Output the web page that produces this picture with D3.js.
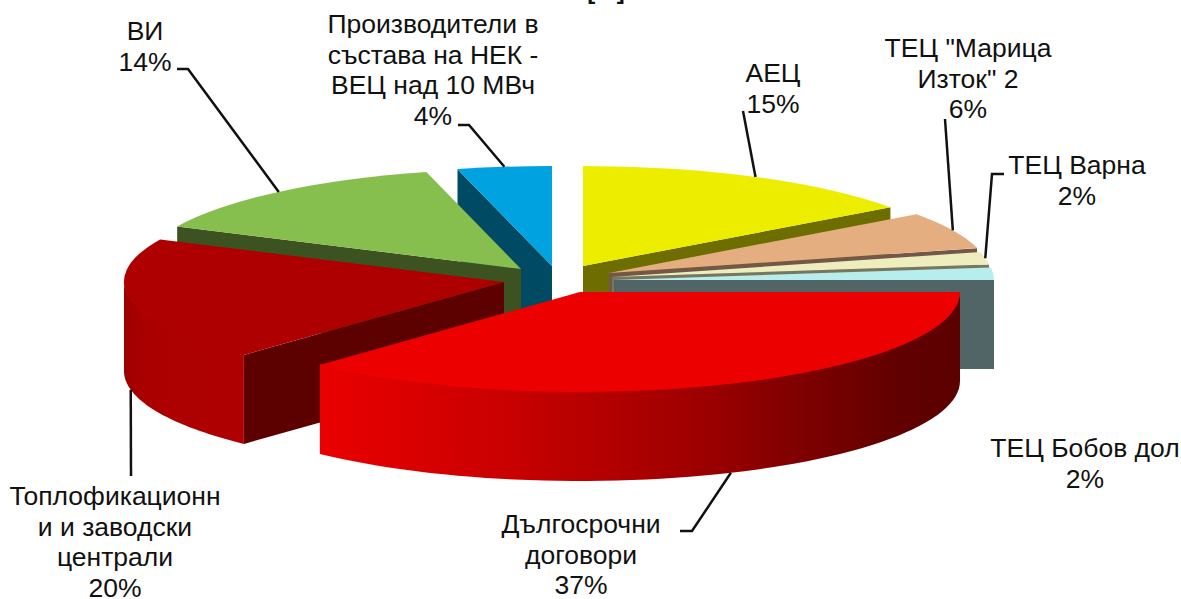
<!DOCTYPE html>
<html>
<head>
<meta charset="utf-8">
<script src="https://cdn.jsdelivr.net/npm/d3@7/dist/d3.min.js"></script>
<style>
  html, body { margin: 0; padding: 0; background: #fff; }
  svg { display: block; }
  text { font-family: "Liberation Sans", Arial, sans-serif; font-size: 26.5px; fill: #111; }
</style>
</head>
<body>
<div id="chart"></div>
<script>
// Data, clockwise from 12 o'clock
const names = ["АЕЦ", "ТЕЦ \"Марица Изток\" 2", "ТЕЦ Варна", "ТЕЦ Бобов дол",
               "Дългосрочни договори", "Топлофикационни и заводски централи", "ВИ",
               "Производители в състава на НЕК - ВЕЦ над 10 МВч"]
const shares = [15, 6, 2, 2, 37, 20, 14, 4]
const labelLines = [
  ["АЕЦ", "15%"],
  ["ТЕЦ \"Марица", "Изток\" 2", "6%"],
  ["ТЕЦ Варна", "2%"],
  ["ТЕЦ Бобов дол", "2%"],
  ["Дългосрочни", "договори", "37%"],
  ["Топлофикационн", "и и заводски", "централи", "20%"],
  ["ВИ", "14%"],
  ["Производители в", "състава на НЕК -", "ВЕЦ над 10 МВч", "4%"]
]
const title = "[%]"

// Styling, same order as the data
const topColors = ["#EDED00", "#E5AE80", "#EEEDBE", "#B7EDEC", "#EC0000", "#AE0000", "#86BF4D", "#00A2E0"]
const faceColors = ["#6E6E00", "#73584A", "#777760", "#516566", "#5C0000", "#5C0000", "#3C5220", "#004A64"]

// Layout
const WIDTH = 1181
const HEIGHT = 599
const CENTER = {x: 570, y: 280}
const RADIUS = {x: 380, y: 100}
const DEPTH = 89
const LINE_HEIGHT = 30.5
const explode = [[13, -14], [39, -7], [42, -3], [44, 0], [10, 12], [-66, 2], [-49, -11], [-18, -14]]
const labelAnchors = [[773, 82], [968, 57], [1077, 174], [1085, 457], [581, 533], [115, 505], [145, 40], [433, 33]]
const leaderStarts = [
  [[743, 111]],
  [[945, 119]],
  [[1004, 174], [992, 174]],
  null,
  [[680, 531], [692, 531]],
  [[131, 476]],
  [[177, 69], [188, 69]],
  [[458, 125], [469, 125]]
]
const drawOrder = [7, 6, 0, 1, 2, 3, 5, 4]

const xScale = d3.scaleLinear().domain([-1, 1]).range([CENTER.x - RADIUS.x, CENTER.x + RADIUS.x])
const yScale = d3.scaleLinear().domain([-1, 1]).range([CENTER.y + RADIUS.y, CENTER.y - RADIUS.y])

const slices = d3.pie().sort(null).startAngle(0).endAngle(2 * Math.PI)(shares)

/*********************************************
// Geometry
*********************************************/
function rimPoint(i, angle, z = 0) {
  return [xScale(Math.sin(angle)) + explode[i][0], yScale(Math.cos(angle)) + explode[i][1] + z]
}

function apexPoint(i, z = 0) {
  return [xScale(0) + explode[i][0], yScale(0) + explode[i][1] + z]
}

// vertical wall along the front part of the rim, only where it faces the viewer
function rimWallPath(i) {
  const a0 = Math.max(slices[i].startAngle, Math.PI / 2)
  const a1 = Math.min(slices[i].endAngle, 3 * Math.PI / 2)
  if (a0 >= a1) return null
  const angles = d3.range(0, 61).map((k) => a0 + (a1 - a0) * k / 60)
  const top = angles.map((a) => rimPoint(i, a, -1)) // tucked under the top, no seam
  const bottom = angles.slice().reverse().map((a) => rimPoint(i, a, DEPTH))
  return d3.line()(top.concat(bottom)) + "Z"
}

// radial cut of the slice, the side that turns towards the viewer
function radialFacePath(i) {
  const s = slices[i]
  let angle = null
  if (Math.sin(s.startAngle) < -1e-6) angle = s.startAngle
  else if (Math.sin(s.endAngle) > 1e-6) angle = s.endAngle
  if (angle === null) return null
  return d3.line()([apexPoint(i), rimPoint(i, angle), rimPoint(i, angle, DEPTH), apexPoint(i, DEPTH)]) + "Z"
}

/*********************************************
// SVG Drawing functions
*********************************************/
function createSVG(elementId) {
  return d3.select(`#${elementId}`)
    .append("svg")
    .attr("width", WIDTH)
    .attr("height", HEIGHT)
}

function addGradient(defs, id, stops) {
  const gradient = defs.append("linearGradient").attr("id", id)
  gradient.selectAll("stop")
    .data(stops).enter()
    .append("stop")
    .attr("offset", (d) => d[0])
    .attr("stop-color", (d) => d[1])
}

function drawSlices(svg) {
  const defs = svg.append("defs")
  addGradient(defs, "wall-4", [[0, "#EA0000"], [0.3, "#C80000"], [0.6, "#9C0000"], [0.9, "#620000"], [1, "#5C0000"]])
  addGradient(defs, "wall-5", [[0, "#9C0000"], [0.12, "#A80000"], [0.4, "#AD0000"], [1, "#AE0000"]])

  const arc = d3.arc().innerRadius(0).outerRadius(1)

  drawOrder.forEach((i) => {
    const g = svg.append("g").classed("slice", true)
    const face = radialFacePath(i)
    const wall = rimWallPath(i)

    if (face) g.append("path").attr("d", face).attr("fill", faceColors[i])
    if (wall) {
      g.append("path")
        .attr("d", wall)
        .attr("fill", (i === 4 || i === 5) ? `url(#wall-${i})` : faceColors[i])
    }

    g.append("path")
      .attr("d", arc(slices[i]))
      .attr("fill", topColors[i])
      .attr("transform", `translate(${apexPoint(i)}) scale(${RADIUS.x},${RADIUS.y})`)
  })
}

function drawLeaders(svg) {
  const line = d3.line()
  leaderStarts.forEach((start, i) => {
    if (!start) return
    const mid = (slices[i].startAngle + slices[i].endAngle) / 2
    const front = mid > Math.PI / 2 && mid < 3 * Math.PI / 2
    svg.append("path")
      .attr("d", line(start.concat([rimPoint(i, mid, front ? DEPTH : 0)])))
      .attr("fill", "none")
      .attr("stroke", "#111")
      .attr("stroke-width", 2.5)
  })
}

function drawLabels(svg) {
  labelLines.forEach((lines, i) => {
    svg.selectAll(`text.label-${i}`)
      .data(lines).enter()
      .append("text")
      .attr("class", `label-${i}`)
      .attr("x", labelAnchors[i][0])
      .attr("y", (_, k) => labelAnchors[i][1] + k * LINE_HEIGHT)
      .attr("text-anchor", "middle")
      .text((d) => d)
  })

  svg.append("text")
    .text(title)
    .attr("x", 606)
    .attr("y", -1)
    .attr("text-anchor", "middle")
    .attr("font-weight", "bold")
    .style("font-size", "24px")
}

const svg = createSVG("chart")
drawSlices(svg)
drawLeaders(svg)
drawLabels(svg)
</script>
</body>
</html>
